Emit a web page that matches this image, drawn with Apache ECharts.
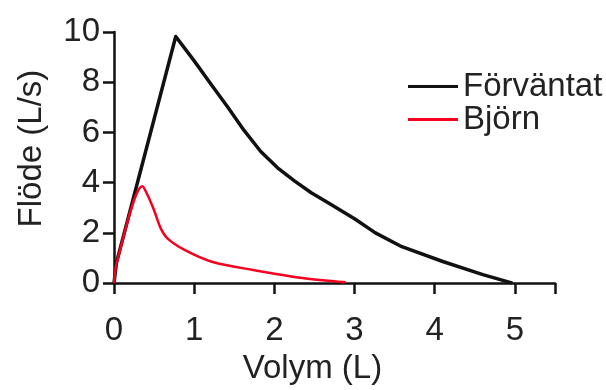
<!DOCTYPE html>
<html>
<head>
<meta charset="utf-8">
<script src="https://cdn.jsdelivr.net/npm/echarts@6/dist/echarts.min.js"></script>
<style>
  html, body { margin: 0; padding: 0; background: #fff; }
  #chart { width: 606px; height: 390px; }
</style>
</head>
<body>
<div id="chart"></div>
<script>
// volume (L), flow (L/s)
const expectedVol = [0, 0.03, 0.77, 1.0, 1.21, 1.42, 1.62, 1.83, 2.04, 2.25, 2.46, 2.67, 3.0, 3.26, 3.59, 4.1, 4.6, 4.97];
const expectedFlow = [0, 0.8, 9.82, 8.85, 7.92, 7.0, 6.09, 5.24, 4.59, 4.07, 3.6, 3.2, 2.56, 2.0, 1.45, 0.86, 0.34, 0.0];

const bjornVol = [0, 0.04, 0.355, 0.42, 0.5, 0.58, 0.67, 0.88, 1.22, 1.72, 2.35, 2.89];
const bjornFlow = [0, 0.9, 3.86, 3.5, 2.9, 2.2, 1.77, 1.32, 0.85, 0.53, 0.2, 0.03];

const seriesNames = ["Förväntat", "Björn"];
const xTicks = [0, 1, 2, 3, 4, 5];
const yTicks = [0, 2, 4, 6, 8, 10];

const font = "Liberation Sans, Arial, sans-serif";
const fontBase = 33;

function pairs(xs, ys) {
  return xs.map((x, i) => [x, ys[i]]);
}

const axisStyle = {
  axisLine: { show: true, lineStyle: { color: "#111", width: 2.5 } },
  axisTick: { show: true, length: 11, lineStyle: { color: "#111", width: 2.5 } },
  splitLine: { show: false },
  nameTextStyle: { fontFamily: font, fontSize: fontBase, color: "#222" }
};

const chart = echarts.init(document.getElementById("chart"));
chart.setOption({
  animation: false,
  backgroundColor: "#fff",
  grid: { left: 114, right: 51, top: 32, bottom: 103, containLabel: false },
  legend: {
    orient: "vertical",
    left: 403,
    top: 65,
    icon: "rect",
    itemWidth: 50,
    itemHeight: 3,
    itemGap: 0,
    data: seriesNames,
    textStyle: { fontFamily: font, fontSize: fontBase, color: "#222" }
  },
  xAxis: Object.assign({}, axisStyle, {
    type: "value",
    min: 0,
    max: 5.5,
    interval: 1,
    name: "Volym (L)",
    nameLocation: "middle",
    nameGap: 68,
    nameTextStyle: Object.assign({}, axisStyle.nameTextStyle, { padding: [0, 44, 0, 0] }),
    axisLabel: {
      margin: 31,
      fontFamily: font, fontSize: fontBase, color: "#222",
      formatter: v => (xTicks.indexOf(v) >= 0 ? String(v) : "")
    }
  }),
  yAxis: Object.assign({}, axisStyle, {
    type: "value",
    min: 0,
    max: 10,
    interval: 2,
    name: "Flöde (L/s)",
    nameLocation: "middle",
    nameGap: 66,
    nameTextStyle: Object.assign({}, axisStyle.nameTextStyle, { padding: [0, 0, 0, 18] }),
    axisLabel: {
      margin: 14,
      fontFamily: font, fontSize: fontBase, color: "#222",
      formatter: v => (yTicks.indexOf(v) >= 0 ? String(v) : "")
    }
  }),
  series: [
    {
      name: seriesNames[0],
      type: "line",
      symbol: "none",
      data: pairs(expectedVol, expectedFlow),
      lineStyle: { color: "#111", width: 3.5, join: "round" },
      itemStyle: { color: "#111" },
      z: 2
    },
    {
      name: seriesNames[1],
      type: "line",
      symbol: "none",
      smooth: 0.3,
      data: pairs(bjornVol, bjornFlow),
      lineStyle: { color: "#f5001e", width: 2.5 },
      itemStyle: { color: "#f5001e" },
      z: 3
    }
  ]
});
</script>
</body>
</html>
